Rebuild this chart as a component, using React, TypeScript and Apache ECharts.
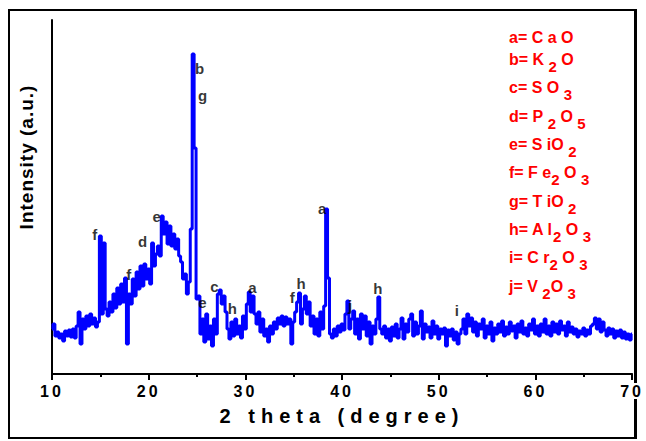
import React, { useEffect, useRef } from "react";
import * as echarts from "echarts";

const intensity10to20 = [
  45, 50, 38, 42, 36, 40, 33, 43, 38, 44,
  37, 45, 36, 48, 62, 30, 55, 45, 58, 48,
  60, 50, 56, 47, 52, 138, 60, 131, 65, 58,
  72, 62, 80, 66, 86, 70, 90, 72, 96, 30,
  80, 70, 95, 78, 102, 85, 108, 88, 110, 95,
];
const intensity20to30 = [
  105, 90, 131, 108, 120, 128, 118, 158, 140, 152,
  130, 148, 128, 140, 125, 135, 118, 112, 95, 100,
  80, 92, 145, 320, 226, 75, 78, 40, 55, 32,
  60, 35, 48, 28, 55, 40, 80, 84, 70, 78,
  62, 45, 35, 52, 38, 55, 40, 48, 36, 58,
];
const intensity30to40 = [
  45, 70, 82, 62, 78, 60, 50, 62, 42, 55,
  38, 45, 32, 48, 40, 52, 45, 56, 50, 58,
  48, 57, 50, 55, 30, 52, 62, 72, 81, 50,
  65, 78, 60, 72, 48, 58, 40, 55, 38, 62,
  45, 68, 165, 96, 40, 36, 45, 38, 48, 42,
];
const intensity40to50 = [
  50, 44, 60, 73, 45, 55, 63, 40, 55, 35,
  60, 45, 58, 38, 52, 30, 48, 40, 55, 77,
  45, 40, 48, 36, 45, 33, 47, 38, 50, 36,
  45, 56, 35, 50, 42, 55, 60, 38, 52, 40,
  48, 63, 35, 50, 42, 47, 36, 53, 40, 48,
];
const intensity50to60 = [
  35, 45, 40, 46, 28, 44, 38, 45, 34, 42,
  30, 40, 45, 55, 40, 60, 48, 56, 42, 52,
  38, 50, 45, 55, 36, 48, 40, 52, 33, 46,
  40, 50, 42, 53, 38, 47, 40, 52, 43, 48,
  36, 50, 42, 53, 40, 46, 38, 50, 44, 55,
];
const intensity60to70 = [
  40, 48, 38, 50, 42, 55, 40, 48, 38, 52,
  42, 50, 40, 53, 44, 48, 38, 52, 42, 47,
  40, 45, 37, 43, 40, 46, 38, 44, 40, 48,
  50, 56, 45, 55, 42, 52, 44, 38, 46, 40,
  45, 36, 43, 38, 44, 36, 42, 35, 40, 34,
  40,
];
const START_ANGLE = 10;
const STEP = 0.2;

// Axis
const xMin = 10;
const xMax = 70;
const xInterval = 10;

// Peak annotations
const peakLabels = ["b", "g", "f", "f", "d", "e", "e", "c", "h", "a", "f", "h", "a", "j", "h", "i"];
const peakLabelX = [25.26, 25.57, 14.43, 17.94, 19.38, 20.82, 25.57, 26.8, 28.66, 30.72, 34.85, 35.77, 37.94, 40.82, 43.71, 51.86];
const peakLabelY = [306, 279, 140, 100, 133, 158, 72, 88, 66, 87, 77, 91, 166, 69, 86, 64];

// Legend (phase key); "_" marks a subscript
const legendRows: string[][] = [
  ["a= C a O"],
  ["b= K ", "_2", " O"],
  ["c= S O ", "_3"],
  ["d= P ", "_2", " O ", "_5"],
  ["e= S iO ", "_2"],
  ["f= F e", "_2", " O ", "_3"],
  ["g= T iO ", "_2"],
  ["h= A l", "_2", " O ", "_3"],
  ["i= C r", "_2", " O ", "_3"],
  ["j= V ", "_2", "O ", "_3"],
];
const legendRowY = [37, 59, 87, 116, 144, 172, 201, 229, 257, 286];

const FONT = "'Liberation Sans', Arial, sans-serif";

export default function App() {
  const ref = useRef<HTMLDivElement>(null);
  useEffect(() => {
    const el = ref.current!;
    const chart = echarts.init(el, null, { renderer: "svg" });
    const all = [
      ...intensity10to20,
      ...intensity20to30,
      ...intensity30to40,
      ...intensity40to50,
      ...intensity50to60,
      ...intensity60to70,
    ];
    const lineData = all.map((v, i) => [+(START_ANGLE + i * STEP).toFixed(1), v]);
    const peakData = peakLabels.map((n, i) => ({ name: n, value: [peakLabelX[i], peakLabelY[i]] }));

    const legendGraphics = legendRows.map((parts, i) => ({
      type: "text",
      x: 509,
      y: legendRowY[i],
      silent: true,
      style: {
        text: parts.map((p) => (p.startsWith("_") ? `{s|${p.slice(1)}}` : `{m|${p}}`)).join(""),
        textAlign: "left",
        textVerticalAlign: "middle",
        align: "left",
        verticalAlign: "middle",
        rich: {
          m: { fontSize: 16, fontWeight: "bold", fontFamily: FONT, fill: "#ff0000", color: "#ff0000" },
          s: { fontSize: 15, fontWeight: "bold", fontFamily: FONT, fill: "#ff0000", color: "#ff0000", padding: [14, 0, 0, 0] },
        },
      },
    }));

    const option: any = {
      animation: false,
      backgroundColor: "#ffffff",
      grid: { left: 52, right: 12, top: 20, bottom: 67, containLabel: false },
      xAxis: {
        type: "value",
        min: xMin,
        max: xMax,
        interval: xInterval,
        name: "2 theta (degree)",
        nameLocation: "middle",
        nameGap: 32,
        nameTextStyle: { fontSize: 20, fontWeight: "bold", color: "#000", fontFamily: FONT },
        axisLine: { show: true, onZero: false, lineStyle: { color: "#000", width: 2 } },
        axisTick: { show: true, length: 6, inside: false, lineStyle: { color: "#000", width: 2 } },
        minorTick: { show: true, splitNumber: 2, length: 3, lineStyle: { color: "#000", width: 2 } },
        splitLine: { show: false },
        minorSplitLine: { show: false },
        axisLabel: {
          fontSize: 16,
          fontWeight: "bold",
          color: "#000",
          fontFamily: FONT,
          margin: 9,
          backgroundColor: "#ffffff",
          padding: [0, 2, 0, 2],
        },
        z: 5,
      },
      yAxis: {
        type: "value",
        min: 0,
        max: 354,
        axisLine: { show: true, onZero: false, lineStyle: { color: "#000", width: 2 } },
        axisTick: { show: false },
        axisLabel: { show: false },
        splitLine: { show: false },
      },
      series: [
        {
          type: "line",
          data: lineData,
          symbol: "none",
          step: "middle",
          lineStyle: { color: "#0000ff", width: 3 },
          itemStyle: { color: "#0000ff" },
          silent: true,
          z: 2,
        },
        {
          type: "scatter",
          data: peakData,
          symbolSize: 0,
          silent: true,
          z: 3,
          label: {
            show: true,
            position: "inside",
            formatter: "{b}",
            fontSize: 15,
            fontWeight: "bold",
            color: "#000",
            fontFamily: FONT,
          },
        },
      ],
      graphic: [
        {
          type: "rect",
          silent: true,
          z: -10,
          shape: { x: 9, y: 10, width: 626, height: 428 },
          style: { fill: "none", stroke: "#000", lineWidth: 2 },
        },
        {
          type: "line",
          silent: true,
          z: -10,
          shape: { x1: 636, y1: 9, x2: 636, y2: 439 },
          style: { stroke: "#000", lineWidth: 2 },
        },
        {
          type: "text",
          x: 26,
          y: 157,
          rotation: Math.PI / 2,
          silent: true,
          style: {
            text: "Intensity (a.u.)",
            textAlign: "center",
            textVerticalAlign: "middle",
            align: "center",
            verticalAlign: "middle",
            fontSize: 19,
            fontWeight: "bold",
            fontFamily: FONT,
            fill: "#000",
          },
        },
        ...legendGraphics,
      ],
    };
    chart.setOption(option);

    const applySpacing = () => {
      el.querySelectorAll("text").forEach((t) => {
        const s = (t.textContent || "").trim();
        const st = (t as SVGTextElement).style;
        if (/^\d+$/.test(s) && s.length === 2) st.letterSpacing = "3px";
        else if (s === "2 theta (degree)") st.letterSpacing = "6px";
        else if (s === "Intensity (a.u.)") st.letterSpacing = "1px";
      });
    };
    applySpacing();
    chart.on("finished", applySpacing);
    return () => chart.dispose();
  }, []);
  return (
    <div
      ref={ref}
      style={{ position: "absolute", left: 0, top: 0, width: 646, height: 441, background: "#fff" }}
    />
  );
}
